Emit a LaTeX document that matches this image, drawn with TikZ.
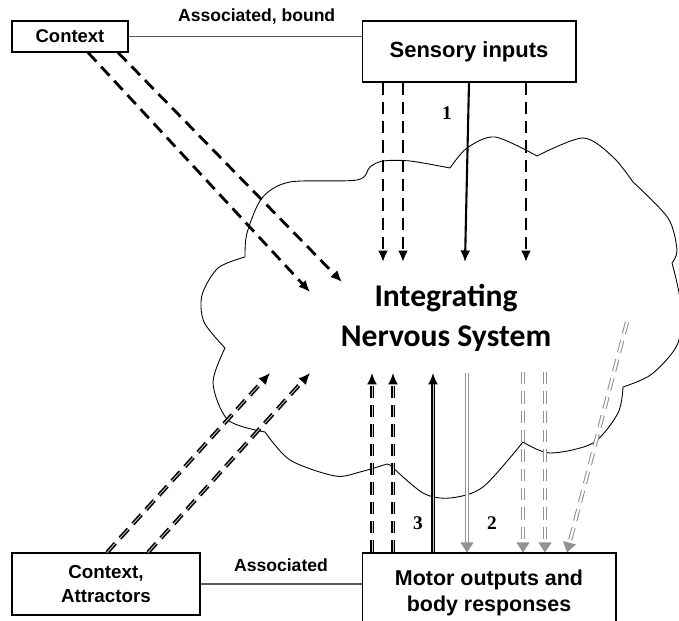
\documentclass[tikz,border=0pt]{standalone}
\usepackage{fontspec}
\setmainfont{Liberation Sans}
\newfontfamily\cloudfont{Carlito}
\newfontfamily\numfont{Liberation Serif}
\usetikzlibrary{arrows.meta}

\begin{document}
\begin{tikzpicture}[
  x=0.02cm, y=-0.02cm,
  box/.style={
    draw,
    line width=0.6pt,
    fill=white,
    align=center,
    inner sep=0pt
  },
  link/.style={draw=black!65, line width=0.7pt},
  lbl/.style={font=\bfseries\fontsize{10}{12}\selectfont, inner sep=0pt},
  num/.style={font=\numfont\bfseries\fontsize{11}{13}\selectfont, inner sep=0pt},
  longdash/.style={dash pattern=on 7pt off 4pt},
  inflow/.style={-{Latex[length=2.3mm,width=2mm]}, line width=1.6pt},
  upflow/.style={-{Latex[length=2.3mm,width=2mm]}, line width=0.9pt, double=gray!45, double distance=0.5pt},
  outflow/.style={-{Triangle[length=2mm,width=2.6mm]}, draw=gray!85, line width=0.6pt, double=white, double distance=1.2pt}
]
  \clip (0,0) rectangle (679,621);

  \draw[fill=white, line width=0.5pt]
    plot[smooth] coordinates {(245,257) (247,233) (262,198) (290,182) (357,180) (370,167) (383,161) (410,161) (450,168)}
    -- plot[smooth] coordinates {(450,168) (467,148) (495,137) (537,156)}
    -- plot[smooth] coordinates {(537,156) (583,138) (613,157) (633,182)}
    -- plot[smooth] coordinates {(633,182) (668,218) (677,250) (672,263)}
    -- plot[smooth] coordinates {(672,263) (680,300) (678,343) (652,374) (623,387)}
    -- plot[smooth] coordinates {(623,387) (618,413) (593,443) (550,453) (523,442)}
    -- plot[smooth] coordinates {(523,442) (483,487) (450,498) (423,493) (390,465)}
    -- plot[smooth] coordinates {(387,464) (360,472) (335,476) (290,460) (265,432)}
    -- plot[smooth] coordinates {(265,432) (228,420) (213,383) (225,348)}
    -- plot[smooth] coordinates {(225,348) (204,322) (202,295) (218,268) (245,257)}
    -- cycle;

  \node[font=\cloudfont\bfseries\fontsize{18}{22.5}\selectfont, align=center] (ins) at (446,318) {Integrating\\Nervous System};

  \node[box, minimum width=2.32cm, minimum height=0.62cm, font=\bfseries\fontsize{10.5}{12}\selectfont] (ctx) at (70,36.5) {Context};
  \node[box, minimum width=4.28cm, minimum height=1.22cm, font=\bfseries\fontsize{12.5}{15}\selectfont] (sens) at (469,51.5) {Sensory inputs};
  \node[box, minimum width=3.76cm, minimum height=1.24cm, font=\bfseries\fontsize{10.7}{14}\selectfont] (ctxatt) at (106,584) {Context,\\Attractors};
  \node[box, minimum width=5.08cm, minimum height=1.6cm, font=\bfseries\fontsize{12.2}{15.3}\selectfont] (motor) at (489,593) {Motor outputs and\\body responses};

  \node[num] (n1) at (447,113) {1};
  \node[num] (n3) at (418,523) {3};
  \node[num] (n2) at (492,523) {2};

  \coordinate (sa) at (383,262);
  \coordinate (sb) at (403,262);
  \coordinate (sc) at (465,262);
  \coordinate (sd) at (526,262);
  \coordinate (ca) at (310,292);
  \coordinate (cb) at (342,282);
  \coordinate (ua) at (372,373);
  \coordinate (ub) at (393,373);
  \coordinate (uc) at (433,373);
  \coordinate (la) at (270,373);
  \coordinate (lb) at (310,373);
  \coordinate (ga) at (467,373);
  \coordinate (gb) at (523,372);
  \coordinate (gc) at (545,372);
  \coordinate (gd) at (627,322);

  \draw[link] (ctx.east) -- node[lbl, pos=0.55, above=0.24cm] {Associated, bound} (sens.west |- ctx.east);
  \draw[link] (ctxatt.east) -- node[lbl, above=0.24cm] {Associated} (motor.west |- ctxatt.east);

  \draw[inflow, longdash] (sens.south -| sa) -- (sa);
  \draw[inflow, longdash] (sens.south -| sb) -- (sb);
  \draw[inflow, line width=1.2pt] (sens.south) -- (sc);
  \draw[inflow, longdash] (sens.south -| sd) -- (sd);
  \draw[inflow, longdash] (ctx.south -| 88,0) -- (ca);
  \draw[inflow, longdash] (ctx.south -| 118,0) -- (cb);

  \draw[upflow, longdash] (motor.north -| ua) -- (ua);
  \draw[upflow, longdash] (motor.north -| ub) -- (ub);
  \draw[upflow] (motor.north -| uc) -- (uc);
  \draw[upflow, longdash] (ctxatt.north -| 107,0) -- (la);
  \draw[upflow, longdash] (ctxatt.north -| 148,0) -- (lb);

  \draw[outflow] (ga) -- (motor.north -| ga);
  \draw[outflow, longdash] (gb) -- (motor.north -| gb);
  \draw[outflow, longdash] (gc) -- (motor.north -| gc);
  \draw[outflow, longdash] (gd) -- (motor.north -| 567,0);
\end{tikzpicture}
\end{document}
